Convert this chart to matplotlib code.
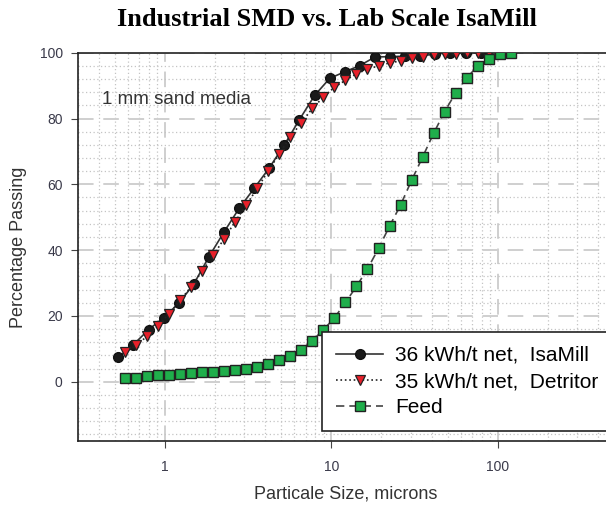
import numpy as np
from matplotlib import pyplot as plt

# particle size (microns) and cumulative % passing
isa_size = [0.524, 0.646, 0.796, 0.981, 1.209, 1.490, 1.837, 2.263, 2.790, 3.438,
            4.236, 5.220, 6.434, 7.930, 9.772, 12.04, 14.84, 18.29, 22.54, 27.78,
            34.23, 42.19, 52.00, 64.08, 78.97]
isa_pass = [7.4, 11.3, 15.8, 19.5, 23.8, 29.7, 38.0, 45.5, 52.7, 58.8,
            65.0, 72.0, 79.7, 87.0, 92.2, 94.2, 96.1, 98.7, 98.8, 98.9,
            99.0, 99.6, 100.0, 100.0, 100.0]

det_size = [0.575, 0.670, 0.780, 0.909, 1.059, 1.233, 1.436, 1.673, 1.949, 2.270,
            2.644, 3.080, 3.587, 4.178, 4.867, 5.669, 6.603, 7.691, 8.960, 10.43,
            12.16, 14.16, 16.49, 19.21, 22.38, 26.06, 30.36, 35.36, 41.19, 47.97,
            55.88, 65.09, 75.82, 88.31]
det_pass = [8.9, 11.1, 13.8, 17.0, 20.7, 24.7, 28.9, 33.7, 38.4, 43.5,
            48.7, 53.7, 58.8, 64.1, 69.3, 74.4, 78.7, 83.1, 86.5, 89.5,
            91.6, 93.6, 95.0, 96.0, 96.9, 97.5, 98.3, 98.8, 99.3, 99.5,
            99.6, 100.0, 100.0, 100.0]

feed_size = [0.575, 0.670, 0.780, 0.909, 1.059, 1.233, 1.436, 1.673, 1.949, 2.270,
             2.644, 3.080, 3.587, 4.178, 4.867, 5.669, 6.603, 7.691, 8.960, 10.43,
             12.16, 14.16, 16.49, 19.21, 22.38, 26.06, 30.36, 35.36, 41.19, 47.97,
             55.88, 65.09, 75.82, 88.31, 102.9, 119.8]
feed_pass = [1.1, 1.1, 1.7, 2.1, 2.1, 2.5, 2.7, 2.9, 3.0, 3.2,
             3.6, 4.0, 4.4, 5.3, 6.5, 7.8, 9.8, 12.5, 15.8, 19.4,
             24.1, 29.0, 34.3, 40.5, 47.3, 53.7, 61.2, 68.3, 75.5, 82.1,
             87.8, 92.3, 96.0, 98.1, 99.6, 100.0]

labels = ['36 kWh/t net,  IsaMill', '35 kWh/t net,  Detritor', 'Feed']
yticks = [0, 20, 40, 60, 80, 100]

plt.rcParams['font.family'] = ['Liberation Sans', 'DejaVu Sans']

fig = plt.figure(figsize=(6.06, 5.07), dpi=100)
# the right edge of the plot runs past the picture, as in the original
ax = fig.add_axes([78/606, 1-441/507, 536/606, (441-52.7)/507])

ax.plot(isa_size, isa_pass, '-', color='#333333', lw=1.2, marker='o', ms=7,
        mfc='#1a1a1a', mec='#111111', label=labels[0], zorder=3)
ax.plot(det_size, det_pass, ':', color='#222222', lw=1.2, marker='v', ms=7,
        mfc='#e8202a', mec='#222222', mew=0.9, label=labels[1], zorder=4)
ax.plot(feed_size, feed_pass, '--', color='#444444', lw=1.2, marker='s', ms=6.5,
        mfc='#1fae4b', mec='#222222', mew=1.0, dashes=(5, 3), label=labels[2], zorder=5)

ax.set_xscale('log')
ax.set_xlim(0.3, 500)
ax.set_ylim(-18, 100)
ax.set_yticks(yticks)
ax.set_yticks(np.arange(-16, 100, 4), minor=True)

ax.grid(which='major', color='#cfcfcf', linestyle=(0, (8, 5)), lw=1.4)
ax.grid(which='minor', color='#c4c4c4', linestyle=(0, (1, 2)), lw=0.9)
ax.set_axisbelow(True)

ax.spines['right'].set_visible(False)
for s in ['left', 'bottom', 'top']:
    ax.spines[s].set_color('#222222')
    ax.spines[s].set_linewidth(1.2)
ax.tick_params(which='major', direction='out', length=5, color='#444444',
               labelsize=10, labelcolor='#3a3a4a')
ax.tick_params(which='minor', length=0)
ax.tick_params(axis='x', pad=9)
ax.tick_params(axis='y', pad=6)
ax.set_xticks([1, 10, 100])
ax.set_xticklabels(['1', '10', '100'])

ax.set_ylabel('Percentage Passing', fontsize=13, color='#333333', labelpad=9)
ax.set_xlabel('Particale Size, microns', fontsize=13, color='#333333', labelpad=8)

ax.text(24/536, (441-100)/388.3, '1 mm sand media', transform=ax.transAxes,
        fontsize=13.5, color='#333333', va='center', ha='left')

fig.text(117/606, 1-26/507, 'Industrial SMD vs. Lab Scale IsaMill', ha='left', va='baseline',
         fontsize=19, fontweight='bold', family='Liberation Serif')

leg = ax.legend(loc='lower left', bbox_to_anchor=(244/536, 10/388.3), fontsize=15,
                frameon=True, fancybox=False, edgecolor='#222222', framealpha=1,
                handlelength=2.3, handletextpad=0.55, labelspacing=0.35,
                borderpad=0.65, borderaxespad=0)
leg.get_frame().set_linewidth(1.2)

plt.savefig('out.png', dpi=100)
